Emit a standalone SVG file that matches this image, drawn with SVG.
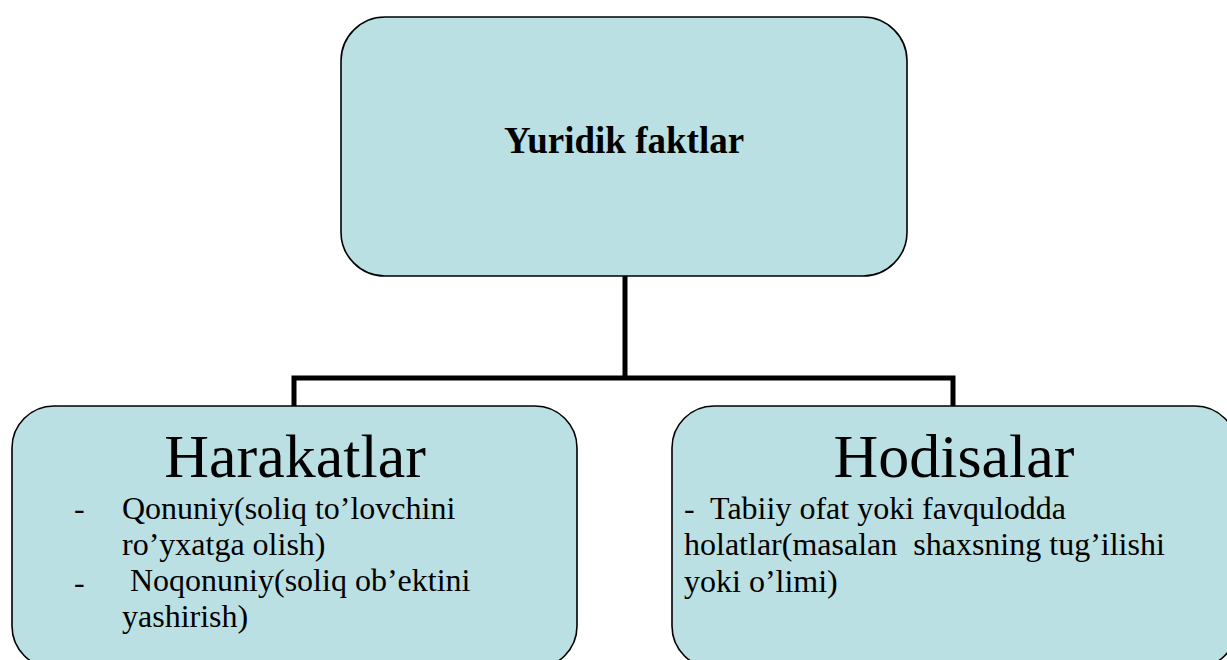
<svg xmlns="http://www.w3.org/2000/svg" width="1227" height="660" viewBox="0 0 1227 660">
  <style>
    .box { fill: #BBE0E3; stroke: #000; stroke-width: 1.6; }
    .wire { fill: none; stroke: #000; stroke-width: 5; stroke-linecap: square; }
    .t { font-family: "Liberation Serif", "Times New Roman", serif; fill: #000; }
    .head { font-size: 62px; text-anchor: middle; }
    .body { font-size: 32px; }
    .title { font-size: 37px; font-weight: bold; text-anchor: middle; }
  </style>
  <rect x="0" y="0" width="1227" height="660" fill="#fff"/>

  <g id="connectors">
    <path class="wire" d="M625 276 V378 M294 378 H953 M294 378 V405 M953 378 V405"/>
  </g>

  <g id="node-yuridik-faktlar">
    <rect class="box" x="341" y="17" width="566" height="259" rx="44" ry="44"/>
    <text class="t title" x="624" y="153">Yuridik faktlar</text>
  </g>

  <g id="node-harakatlar">
    <rect class="box" x="12" y="406" width="565" height="262" rx="42" ry="42"/>
    <text class="t head" x="295" y="477">Harakatlar</text>
    <text class="t body" x="74" y="519">-</text>
    <text class="t body" x="122" y="519">Qonuniy(soliq to’lovchini</text>
    <text class="t body" x="122" y="555">ro’yxatga olish)</text>
    <text class="t body" x="74" y="593">-</text>
    <text class="t body" x="122" y="591" xml:space="preserve"> Noqonuniy(soliq ob’ektini</text>
    <text class="t body" x="122" y="627">yashirish)</text>
  </g>

  <g id="node-hodisalar">
    <rect class="box" x="672" y="406" width="565" height="262" rx="42" ry="42"/>
    <text class="t head" x="954" y="477">Hodisalar</text>
    <text class="t body" x="684" y="519" xml:space="preserve">-  Tabiiy ofat yoki favqulodda</text>
    <text class="t body" x="684" y="555" xml:space="preserve">holatlar(masalan  shaxsning tug’ilishi</text>
    <text class="t body" x="684" y="592">yoki o’limi)</text>
  </g>
</svg>
